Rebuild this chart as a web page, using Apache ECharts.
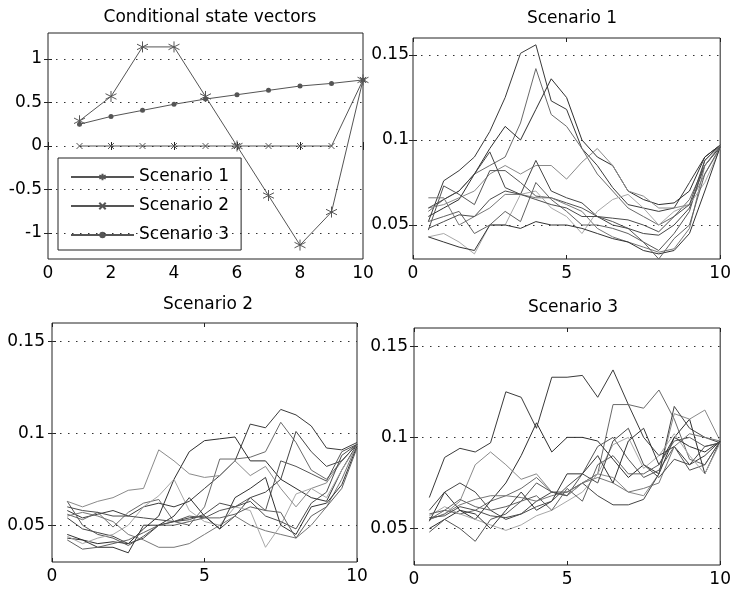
<!DOCTYPE html>
<html><head><meta charset="utf-8">
<script src="https://cdn.jsdelivr.net/npm/echarts@6/dist/echarts.min.js"></script>
<style>html,body{margin:0;padding:0;background:#fff}#c{width:734px;height:592px}</style>
</head><body><div id="c"></div>
<script>
// ---------- data ----------
const stepX = [0.5,1,1.5,2,2.5,3,3.5,4,4.5,5,5.5,6,6.5,7,7.5,8,8.5,9,9.5,10];
const stateX = [1,2,3,4,5,6,7,8,9,10];
const stateNames = ['Scenario 1','Scenario 2','Scenario 3'];
const stateScenario1 = [0.29,0.57,1.14,1.14,0.57,0,-0.57,-1.14,-0.76,0.76];
const stateScenario2 = [0,0,0,0,0,0,0,0,0,0.76];
const stateScenario3 = [0.25,0.34,0.41,0.48,0.54,0.59,0.64,0.69,0.72,0.76];
const stateYTicks = [-1,-0.5,0,0.5,1];
const pathYTicks = [0.05,0.1,0.15];
const panelTitles = ['Conditional state vectors','Scenario 1','Scenario 2','Scenario 3'];

const scen1Paths = [
 [0.052,0.076,0.082,0.090,0.105,0.125,0.151,0.156,0.123,0.118,0.095,0.085,0.072,0.062,0.060,0.058,0.060,0.075,0.090,0.097],
 [0.058,0.065,0.070,0.080,0.085,0.090,0.110,0.142,0.115,0.108,0.095,0.080,0.070,0.060,0.055,0.050,0.055,0.065,0.085,0.096],
 [0.055,0.060,0.065,0.080,0.095,0.108,0.100,0.118,0.136,0.125,0.100,0.090,0.085,0.070,0.065,0.062,0.063,0.070,0.090,0.097],
 [0.060,0.062,0.066,0.070,0.080,0.085,0.080,0.085,0.085,0.077,0.087,0.095,0.085,0.070,0.067,0.060,0.060,0.062,0.080,0.095],
 [0.060,0.065,0.070,0.080,0.093,0.072,0.068,0.088,0.070,0.066,0.063,0.055,0.050,0.048,0.045,0.044,0.050,0.060,0.085,0.096],
 [0.047,0.073,0.068,0.062,0.082,0.082,0.075,0.067,0.066,0.063,0.060,0.055,0.052,0.048,0.040,0.035,0.045,0.058,0.088,0.097],
 [0.066,0.066,0.050,0.055,0.060,0.068,0.068,0.066,0.066,0.062,0.058,0.048,0.043,0.040,0.037,0.034,0.036,0.048,0.085,0.097],
 [0.043,0.045,0.040,0.033,0.050,0.050,0.068,0.070,0.060,0.055,0.045,0.058,0.065,0.068,0.060,0.050,0.058,0.062,0.075,0.095],
 [0.043,0.040,0.037,0.035,0.050,0.050,0.048,0.052,0.050,0.050,0.048,0.045,0.042,0.040,0.035,0.033,0.035,0.045,0.070,0.096],
 [0.052,0.055,0.058,0.045,0.050,0.058,0.052,0.075,0.065,0.058,0.050,0.050,0.048,0.045,0.040,0.030,0.042,0.050,0.080,0.096],
 [0.048,0.052,0.056,0.055,0.065,0.070,0.068,0.065,0.062,0.060,0.055,0.055,0.054,0.053,0.050,0.046,0.055,0.062,0.088,0.097]
];
const scen2Paths = [
 [0.058,0.054,0.056,0.058,0.055,0.060,0.062,0.060,0.063,0.070,0.077,0.085,0.105,0.103,0.113,0.110,0.104,0.092,0.091,0.095],
 [0.056,0.053,0.057,0.049,0.057,0.062,0.064,0.052,0.050,0.060,0.086,0.086,0.087,0.090,0.106,0.095,0.080,0.075,0.085,0.094],
 [0.043,0.042,0.040,0.041,0.040,0.048,0.055,0.075,0.090,0.096,0.097,0.098,0.085,0.085,0.075,0.070,0.065,0.063,0.080,0.094],
 [0.063,0.060,0.063,0.065,0.069,0.070,0.091,0.085,0.078,0.076,0.077,0.085,0.077,0.082,0.070,0.060,0.070,0.073,0.085,0.094],
 [0.054,0.048,0.046,0.044,0.040,0.043,0.050,0.052,0.054,0.055,0.048,0.055,0.065,0.068,0.075,0.101,0.090,0.082,0.085,0.094],
 [0.063,0.050,0.045,0.043,0.039,0.044,0.050,0.052,0.055,0.054,0.058,0.060,0.065,0.058,0.085,0.082,0.078,0.074,0.090,0.094],
 [0.055,0.057,0.055,0.052,0.045,0.042,0.038,0.038,0.040,0.045,0.050,0.055,0.050,0.047,0.045,0.043,0.050,0.060,0.075,0.094],
 [0.044,0.040,0.043,0.045,0.050,0.060,0.066,0.075,0.058,0.052,0.050,0.060,0.058,0.038,0.050,0.067,0.070,0.065,0.080,0.093],
 [0.045,0.042,0.038,0.038,0.035,0.050,0.050,0.055,0.065,0.055,0.048,0.065,0.070,0.076,0.050,0.045,0.060,0.062,0.072,0.093],
 [0.042,0.037,0.038,0.040,0.042,0.046,0.050,0.050,0.052,0.054,0.054,0.056,0.060,0.058,0.057,0.043,0.055,0.060,0.070,0.092],
 [0.060,0.058,0.057,0.055,0.055,0.054,0.053,0.052,0.053,0.056,0.062,0.060,0.063,0.055,0.052,0.048,0.062,0.068,0.088,0.094]
];
const scen3Paths = [
 [0.067,0.089,0.094,0.092,0.097,0.125,0.122,0.105,0.133,0.133,0.134,0.122,0.137,0.118,0.100,0.090,0.095,0.085,0.090,0.098],
 [0.055,0.060,0.058,0.060,0.065,0.068,0.072,0.078,0.070,0.068,0.075,0.080,0.118,0.118,0.116,0.126,0.110,0.088,0.085,0.098],
 [0.050,0.055,0.060,0.055,0.065,0.075,0.090,0.108,0.092,0.100,0.100,0.098,0.088,0.078,0.085,0.080,0.100,0.110,0.080,0.098],
 [0.055,0.058,0.065,0.085,0.092,0.085,0.077,0.080,0.070,0.068,0.075,0.080,0.078,0.070,0.068,0.080,0.113,0.110,0.115,0.098],
 [0.060,0.070,0.075,0.070,0.060,0.055,0.058,0.065,0.070,0.070,0.075,0.068,0.063,0.063,0.066,0.080,0.117,0.105,0.100,0.097],
 [0.048,0.055,0.050,0.043,0.055,0.058,0.065,0.075,0.070,0.068,0.080,0.095,0.100,0.088,0.078,0.082,0.095,0.082,0.085,0.098],
 [0.055,0.058,0.063,0.066,0.068,0.068,0.067,0.065,0.068,0.070,0.075,0.078,0.075,0.070,0.072,0.075,0.095,0.102,0.100,0.098],
 [0.057,0.062,0.058,0.055,0.052,0.049,0.052,0.057,0.060,0.065,0.070,0.080,0.096,0.100,0.083,0.090,0.102,0.090,0.080,0.097],
 [0.054,0.070,0.060,0.058,0.050,0.060,0.070,0.060,0.065,0.080,0.080,0.090,0.075,0.098,0.105,0.085,0.100,0.095,0.092,0.098],
 [0.058,0.060,0.066,0.062,0.060,0.062,0.065,0.068,0.060,0.072,0.065,0.085,0.090,0.080,0.080,0.085,0.098,0.100,0.095,0.097],
 [0.056,0.057,0.062,0.060,0.057,0.056,0.058,0.062,0.065,0.073,0.080,0.075,0.098,0.105,0.085,0.078,0.088,0.085,0.095,0.097]
];
const grayShades = ['#3a3a3a','#6a6a6a','#2e2e2e','#8a8a8a','#444444','#555555','#777777','#a8a8a8','#333333','#606060','#4c4c4c'];

// ---------- layout / style ----------
const FONT = 'DejaVu Sans';
const FS = 17;
const grids = [
  {left:48, top:33, width:315, height:226},
  {left:413, top:38, width:311, height:221},
  {left:52, top:323, width:305, height:239},
  {left:414, top:328, width:309, height:237}
];
const yRanges = [[-1.3,1.3],[0.03,0.16],[0.03,0.16],[0.03,0.16]];
const xIntervals = [2,5,5,5];
const yTickSets = [stateYTicks, pathYTicks, pathYTicks, pathYTicks];
const labelMargins = [6,4,7,6];
const titlePos = [[205,4],[567,5],[203,291],[568,294]];

const xAxis = [], yAxis = [];
grids.forEach((g,i)=>{
  xAxis.push({gridIndex:i,type:'value',min:0,max:10,interval:xIntervals[i],position:'bottom',
    axisLine:{show:false},axisTick:{inside:true,length:4,lineStyle:{color:'#222'}},
    axisLabel:{color:'#000',fontSize:FS,fontFamily:FONT,margin:6,showMinLabel:true,showMaxLabel:true},
    splitLine:{show:false}});
});
grids.forEach((g,i)=>{
  xAxis.push({gridIndex:i,type:'value',min:0,max:10,interval:xIntervals[i],position:'top',
    axisLine:{show:false},axisTick:{inside:true,length:4,lineStyle:{color:'#222'}},
    axisLabel:{show:false},splitLine:{show:false}});
});
grids.forEach((g,i)=>{
  yAxis.push({gridIndex:i,type:'value',min:yRanges[i][0],max:yRanges[i][1],position:'left',
    axisLine:{show:false},
    axisTick:{inside:true,length:4,customValues:yTickSets[i],lineStyle:{color:'#222'}},
    axisLabel:{color:'#000',fontSize:FS,fontFamily:FONT,margin:labelMargins[i],customValues:yTickSets[i],
      formatter:v=>String(Math.round(v*100)/100)},
    splitLine:{show:false}});
});
grids.forEach((g,i)=>{
  yAxis.push({gridIndex:i,type:'value',min:yRanges[i][0],max:yRanges[i][1],position:'right',
    axisLine:{show:false},
    axisTick:{inside:true,length:4,customValues:yTickSets[i],lineStyle:{color:'#222'}},
    axisLabel:{show:false},splitLine:{show:false}});
});

function gridMark(i){
  return {silent:true,symbol:['none','none'],animation:false,
    label:{show:false},lineStyle:{type:[1.5,6.5],color:'#333',width:1},
    emphasis:{disabled:true},
    data:yTickSets[i].map(v=>({yAxis:v}))};
}

const series = [];
const starPath = 'path://M10,0 L10,20 M1.3,5 L18.7,15 M1.3,15 L18.7,5';
const xPath = 'path://M0,0 L10,10 M0,10 L10,0';
const stateVals = [stateScenario1, stateScenario2, stateScenario3];
const stateSymbols = [starPath, xPath, 'circle'];
const stateSizes = [11, 6, 5];
stateVals.forEach((vals,k)=>{
  const sym = stateSymbols[k];
  series.push({name:stateNames[k],type:'line',xAxisIndex:0,yAxisIndex:0,
    data:stateX.map((x,j)=>[x,vals[j]]),
    symbol:sym,symbolSize:stateSizes[k],showSymbol:true,
    lineStyle:{color:'#555',width:1},
    itemStyle: sym==='circle' ? {color:'#555'} : {color:'rgba(0,0,0,0)',borderColor:'#555',borderWidth:1},
    emphasis:{disabled:true},
    markLine: k===0 ? gridMark(0) : undefined
  });
});
[scen1Paths, scen2Paths, scen3Paths].forEach((paths,p)=>{
  const gi = p+1;
  paths.forEach((vals,k)=>{
    series.push({name:'path'+gi+'_'+k,type:'line',xAxisIndex:gi,yAxisIndex:gi,
      data:stepX.map((x,j)=>[x,vals[j]]),
      symbol:'none',lineStyle:{color:grayShades[k%grayShades.length],width:1},
      emphasis:{disabled:true},
      markLine: k===0 ? gridMark(gi) : undefined});
  });
});

const option = {
  animation:false,
  backgroundColor:'#fff',
  title: panelTitles.map((t,i)=>({text:t,left:titlePos[i][0],top:titlePos[i][1],textAlign:'center',
    textStyle:{fontSize:FS,fontWeight:'normal',color:'#000',fontFamily:FONT}})),
  grid: grids.map(g=>Object.assign({show:true,borderColor:'#222',borderWidth:1,backgroundColor:'#fff',containLabel:false},g)),
  xAxis, yAxis,
  legend:{data:stateNames,orient:'vertical',left:58,top:158,width:180,
    padding:[9,12,5,12],itemGap:9,itemWidth:63,itemHeight:8,
    backgroundColor:'#fff',borderColor:'#222',borderWidth:1,borderRadius:0,selectedMode:false,
    textStyle:{fontSize:FS,fontFamily:FONT,color:'#000',lineHeight:20}},
  series
};
const chart = echarts.init(document.getElementById('c'),null,{renderer:'canvas'});
chart.setOption(option);
</script></body></html>
